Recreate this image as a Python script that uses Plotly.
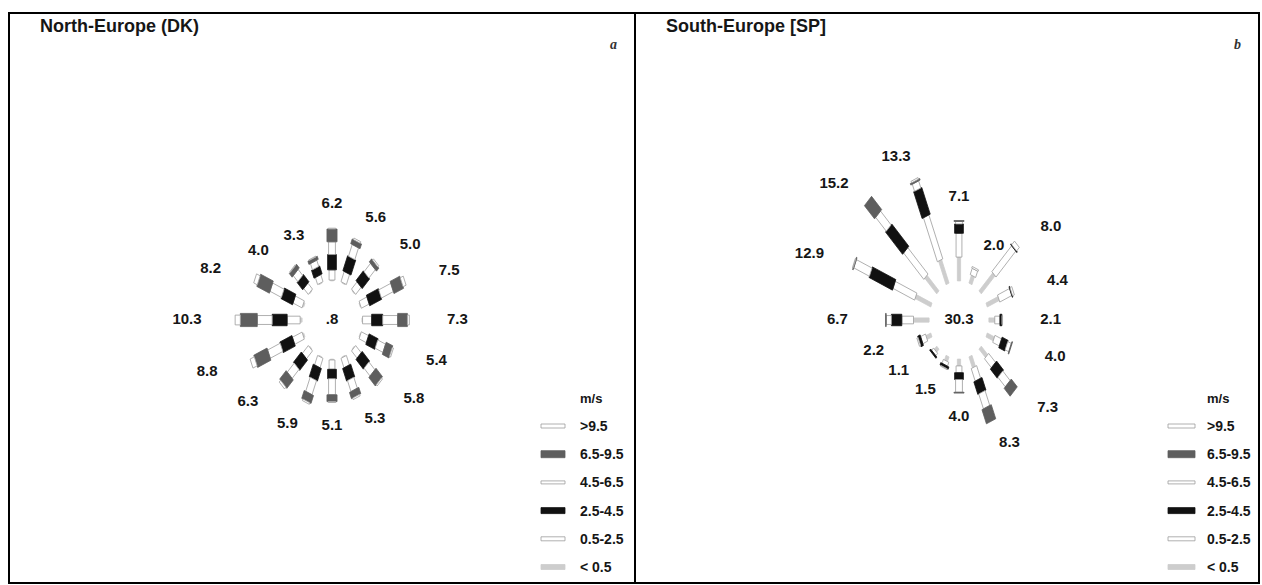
import numpy as np
import plotly.graph_objects as go

# ---------------------------------------------------------------- data
directions = ["N", "NNE", "NE", "ENE", "E", "ESE", "SE", "SSE",
              "S", "SSW", "SW", "WSW", "W", "WNW", "NW", "NNW"]
bearings = [0.0, 22.5, 45.0, 67.5, 90.0, 112.5, 135.0, 157.5,
            180.0, 202.5, 225.0, 247.5, 270.0, 292.5, 315.0, 337.5]
speed_classes = ["< 0.5", "0.5-2.5", "2.5-4.5", "4.5-6.5", "6.5-9.5", ">9.5"]

# North-Europe (DK): frequency (%) per sector and wind-speed class (m/s)
dk_lt05 = [0.1, 0.1, 0.1, 0.1, 0.1, 0.1, 0.1, 0.1, 0.1, 0.1, 0.1, 0.2, 0.3, 0.2, 0.1, 0.1]
dk_05_25 = [1.2, 1.3, 1.2, 1.3, 1.4, 1.2, 1.2, 1.2, 1.1, 1.2, 1.3, 1.6, 2.0, 1.5, 1.0, 0.9]
dk_25_45 = [1.8, 1.9, 1.6, 2.0, 1.7, 1.5, 1.6, 1.6, 1.1, 1.6, 1.7, 2.0, 2.3, 1.9, 1.2, 1.0]
dk_45_65 = [1.5, 1.5, 1.4, 2.0, 2.3, 1.3, 1.3, 1.4, 1.9, 1.8, 1.5, 2.1, 2.3, 1.9, 1.0, 0.8]
dk_65_95 = [1.5, 0.6, 0.5, 1.6, 1.5, 1.1, 1.4, 0.8, 0.8, 1.0, 1.4, 2.2, 2.6, 2.1, 0.6, 0.4]
dk_gt95 = [0.1, 0.2, 0.2, 0.5, 0.3, 0.2, 0.2, 0.2, 0.1, 0.2, 0.3, 0.7, 0.8, 0.6, 0.1, 0.1]
dk_calm = 0.8

# South-Europe (SP)
sp_lt05 = [2.8, 1.0, 3.0, 2.0, 0.9, 1.2, 1.4, 1.4, 0.8, 0.6, 0.5, 0.8, 2.4, 2.6, 2.6, 3.0]
sp_05_25 = [2.8, 0.8, 4.3, 2.0, 0.8, 1.1, 1.5, 1.6, 0.8, 0.5, 0.4, 0.8, 1.8, 3.6, 4.4, 5.6]
sp_25_45 = [1.1, 0.0, 0.1, 0.1, 0.3, 1.0, 1.5, 1.6, 0.8, 0.3, 0.2, 0.4, 1.6, 3.9, 3.7, 3.4]
sp_45_65 = [0.3, 0.2, 0.6, 0.3, 0.1, 0.6, 1.6, 1.9, 1.5, 0.1, 0.0, 0.2, 0.8, 2.6, 2.3, 0.9]
sp_65_95 = [0.1, 0.0, 0.0, 0.0, 0.0, 0.1, 1.3, 1.8, 0.1, 0.0, 0.0, 0.0, 0.1, 0.1, 2.2, 0.2]
sp_gt95 = [0.0, 0.0, 0.0, 0.0, 0.0, 0.0, 0.0, 0.0, 0.0, 0.0, 0.0, 0.0, 0.0, 0.1, 0.0, 0.2]
sp_calm = 30.3

panels = [
    dict(title="North-Europe (DK)", tag="a", calm=dk_calm,
         classes=[dk_lt05, dk_05_25, dk_25_45, dk_45_65, dk_65_95, dk_gt95]),
    dict(title="South-Europe [SP]", tag="b", calm=sp_calm,
         classes=[sp_lt05, sp_05_25, sp_25_45, sp_45_65, sp_65_95, sp_gt95]),
]

# ---------------------------------------------------------------- styling
W, H = 1262, 585
FONT = "Liberation Sans, Arial, sans-serif"
INK = "#161616"
fills = ["#cdcdcd", "#ffffff", "#111111", "#ffffff", "#5e5e5e", "#ffffff"]
edges = ["#cdcdcd", "#9c9c9c", "#111111", "#9c9c9c", "#5e5e5e", "#9c9c9c"]
bar_width = [0.5, 0.9, 1.35, 1.05, 1.55, 1.15]      # in axis units
swatch_h = [5, 4, 6, 3, 7, 4]                        # legend swatch heights, px
R0 = 4.6                                             # inner (calm) radius, axis units
SX, SY = 6.5, 8.5                                    # px per axis unit
GAP_X, GAP_Y = 7.4, 2.8                              # label offset beyond spoke end

boxes = [dict(x0=9, x1=635, cx=332, sw0=541, sw1=565, tx=578),
         dict(x0=635, x1=1259, cx=959, sw0=1168, sw1=1195, tx=1205)]
Y_TOP, Y_BOT, CY = 13, 583, 320


def xp(px):
    return px / W


def yp(py):
    return 1 - py / H


fig = go.Figure()
annotations = []
shapes = []

for i, (panel, box) in enumerate(zip(panels, boxes)):
    ax = "" if i == 0 else str(i + 1)
    xa, ya = "x" + ax, "y" + ax
    fig.update_layout(**{
        "xaxis" + ax: dict(domain=[xp(box["x0"]), xp(box["x1"])],
                           range=[-(box["cx"] - box["x0"]) / SX, (box["x1"] - box["cx"]) / SX],
                           visible=False, fixedrange=True, anchor=ya),
        "yaxis" + ax: dict(domain=[yp(Y_BOT), yp(Y_TOP)],
                           range=[-(Y_BOT - CY) / SY, (CY - Y_TOP) / SY],
                           visible=False, fixedrange=True, anchor=xa),
    })

    freq = np.array(panel["classes"], dtype=float)          # (class, sector)
    cum = np.vstack([np.zeros(freq.shape[1]), np.cumsum(freq, axis=0)])
    theta = np.radians(bearings)
    ux, uy = np.sin(theta), np.cos(theta)                    # spoke direction
    px_, py_ = np.cos(theta), -np.sin(theta)                 # perpendicular

    for k in range(freq.shape[0]):
        xs, ys = [], []
        hw = bar_width[k] / 2
        for s in range(freq.shape[1]):
            if freq[k, s] <= 0:
                continue
            ra, rb = R0 + cum[k, s], R0 + cum[k + 1, s]
            corners = [(ra, hw), (rb, hw), (rb, -hw), (ra, -hw), (ra, hw)]
            for r, o in corners:
                xs.append(ux[s] * r + px_[s] * o)
                ys.append(uy[s] * r + py_[s] * o)
            xs.append(None)
            ys.append(None)
        fig.add_trace(go.Scatter(
            x=xs, y=ys, xaxis=xa, yaxis=ya, mode="lines", fill="toself",
            fillcolor=fills[k], line=dict(color=edges[k], width=0.8),
            name=speed_classes[k], showlegend=False, hoverinfo="skip"))

    # sector totals at the end of each spoke
    totals = freq.sum(axis=0)
    ends = R0 + totals
    fig.add_trace(go.Scatter(
        x=ux * ends + GAP_X * ux, y=uy * ends + GAP_Y * uy,
        xaxis=xa, yaxis=ya, mode="text",
        text=[f"{t:.1f}" for t in totals],
        textfont=dict(family=FONT, size=15, color=INK, weight="bold"),
        textposition="middle center", showlegend=False, hoverinfo="skip"))

    # calm percentage in the centre
    calm_txt = f"{panel['calm']:.1f}"
    if calm_txt.startswith("0"):
        calm_txt = calm_txt[1:]
    fig.add_trace(go.Scatter(
        x=[0], y=[0], xaxis=xa, yaxis=ya, mode="text", text=[calm_txt],
        textfont=dict(family=FONT, size=15, color=INK, weight="bold"),
        textposition="middle center", showlegend=False, hoverinfo="skip"))

    # panel title and tag
    annotations.append(dict(x=xp(box["x0"] + 29), y=yp(26), xref="paper", yref="paper",
                            text=panel["title"], showarrow=False, xanchor="left",
                            yanchor="middle",
                            font=dict(family=FONT, size=18, color=INK, weight="bold")))
    annotations.append(dict(x=xp(box["x1"] - 22), y=yp(45), xref="paper", yref="paper",
                            text="<i>" + panel["tag"] + "</i>", showarrow=False,
                            xanchor="center", yanchor="middle",
                            font=dict(family="Liberation Serif, serif", size=14,
                                      color="#333", weight="bold")))

    # speed-class key
    annotations.append(dict(x=xp(box["tx"]), y=yp(398), xref="paper", yref="paper",
                            text="m/s", showarrow=False, xanchor="left", yanchor="middle",
                            font=dict(family=FONT, size=13, color=INK, weight="bold")))
    for k in range(len(speed_classes)):
        row = len(speed_classes) - 1 - k
        yc = 426 + 28.2 * row
        h = swatch_h[k]
        shapes.append(dict(type="rect", xref="paper", yref="paper",
                           x0=xp(box["sw0"]), x1=xp(box["sw1"]),
                           y0=yp(yc + h / 2), y1=yp(yc - h / 2),
                           fillcolor=fills[k], line=dict(color=edges[k], width=0.8)))
        annotations.append(dict(x=xp(box["tx"]), y=yp(yc), xref="paper", yref="paper",
                                text=speed_classes[k], showarrow=False, xanchor="left",
                                yanchor="middle",
                                font=dict(family=FONT, size=14, color=INK, weight="bold")))

# frame and divider
shapes.append(dict(type="rect", xref="paper", yref="paper",
                   x0=xp(9), x1=xp(1259), y0=yp(583), y1=yp(13),
                   line=dict(color="black", width=2)))
shapes.append(dict(type="line", xref="paper", yref="paper",
                   x0=xp(635), x1=xp(635), y0=yp(583), y1=yp(13),
                   line=dict(color="black", width=2)))

fig.update_layout(width=W, height=H, margin=dict(l=0, r=0, t=0, b=0),
                  paper_bgcolor="white", plot_bgcolor="white",
                  annotations=annotations, shapes=shapes, showlegend=False)

fig.write_html("out.html")
